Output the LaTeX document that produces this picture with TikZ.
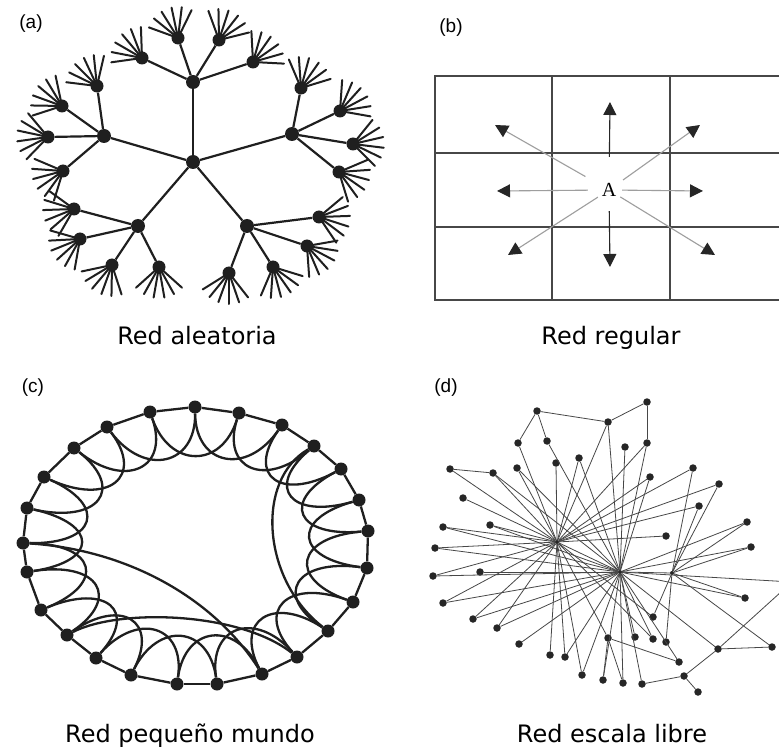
\documentclass[tikz,border=0pt]{standalone}
\usepackage{fontspec}
\setmainfont{DejaVu Sans}
\newfontfamily\labfont{Liberation Sans}
\newfontfamily\serifA{Liberation Serif}
\usetikzlibrary{arrows.meta,calc}
\begin{document}
\begin{tikzpicture}[x=1pt,y=-1pt,
  treeline/.style={line width=2.2pt, draw=black!88},
  fanline/.style={line width=2pt, draw=black!88, line cap=round},
  bigdot/.style={circle, fill=black!88, inner sep=0pt, minimum size=14pt},
  leafdot/.style={circle, fill=black!88, inner sep=0pt, minimum size=13pt},
  ringline/.style={line width=2.3pt, draw=black!88},
  ringdot/.style={circle, fill=black!88, inner sep=0pt, minimum size=13pt},
  sfline/.style={line width=0.8pt, draw=black!72},
  sfdot/.style={circle, fill=black!85, inner sep=0pt, minimum size=7.5pt},
  hubdot/.style={circle, fill=black!85, inner sep=0pt, minimum size=4pt},
  gridline/.style={line width=1.8pt, draw=black!72},
  darrow/.style={line width=1.1pt, draw=black!85, -{Triangle[length=13pt,width=13pt]}},
  garrow/.style={line width=1.1pt, draw=black!38, -{Triangle[length=13pt,width=13pt,color=black!85]}},
  caption/.style={font=\fontsize{24}{28}\selectfont, anchor=base, inner sep=0pt},
  plabel/.style={font=\labfont\fontsize{19}{21}\selectfont, inner sep=0pt}
]
\useasboundingbox (0,0) rectangle (779,751);
\clip (0,0) rectangle (779,751);
\fill[white] (0,0) rectangle (779,751);

% ---------------- (a) random tree ----------------
\foreach \n/\x/\y in {a0/193/162, at/193/82, al/104/136, ar/292/134, abl/138/226, abr/247/226}
  \node[bigdot] (\n) at (\x,\y) {};
\foreach \n in {at,al,ar,abl,abr} \draw[treeline] (a0) -- (\n);
\foreach \p/\n/\x/\y/\ang in {
 at/a1/142/58/140, at/a2/178/38/112, at/a3/219/40/62, at/a4/253/62/45,
 al/a5/97/86/125, al/a6/62/106/150, al/a7/48/137/178, al/a8/63/171/205,
 ar/a9/301/88/65, ar/a10/340/111/38, ar/a11/353/144/3, ar/a12/339/172/-25,
 abl/a13/74/209/192, abl/a14/80/239/212, abl/a15/112/265/240, abl/a16/159/267/270,
 abr/a17/229/273/260, abr/a18/273/267/295, abr/a19/307/246/322, abr/a20/319/217/-8}{
  \node[leafdot] (\n) at (\x,\y) {};
  \draw[treeline] (\p) -- (\n);
  \foreach \o in {-48,-29,-10,10,29,48}
    \draw[fanline] (\n.center) -- ++(\ang+\o:31pt);
}
\node[plabel] (la) at (31,24) {(a)};
\node[caption] (capa) at (197,344) {Red aleatoria};

% ---------------- (b) regular lattice ----------------
\draw[gridline] (779,76) -- (435,76) -- (435,300) -- (779,300);
\draw[gridline] (435,153) -- (779,153);
\draw[gridline] (435,227) -- (779,227);
\draw[gridline] (552,76) -- (552,300);
\draw[gridline] (670,76) -- (670,300);
\node[circle, fill=white, inner sep=0pt, minimum size=26pt, font=\serifA\fontsize{20}{22}\selectfont] (A) at (609,190) {A};
\foreach \n/\x/\y in {bu/610/102, bd/610/267, bl/497/191, br/703/191, bul/495/125, bur/700/125, bdl/508/255, bdr/715/255}
  \coordinate (\n) at (\x,\y);
\draw[darrow, shorten <=20pt] (A) -- (bu);
\draw[darrow, shorten <=8pt] (A) -- (bd);
\draw[garrow, shorten <=8pt] (A) -- (bl);
\draw[garrow] (A) -- (br);
\draw[garrow, shorten <=14pt] (A) -- (bul);
\draw[garrow, shorten <=4pt] (A) -- (bur);
\draw[garrow] (A) -- (bdl);
\draw[garrow] (A) -- (bdr);
\node[plabel] (lb) at (451,28) {(b)};
\node[caption] (capb) at (611,344) {Red regular};

% ---------------- (c) small world ----------------
\coordinate (C) at (197,546);
\foreach \i/\x/\y in {1/195/407, 2/239/413, 3/282/425, 4/314/446, 5/341/469, 6/359/500,
  7/368/531, 8/367/568, 9/353/602, 10/328/631, 11/297/657, 12/262/674, 13/217/684,
  14/177/684, 15/131/675, 16/96/658, 17/67/635, 18/41/610, 19/27/572, 20/23/543,
  21/27/508, 22/44/477, 23/74/448, 24/107/427, 25/150/412}
  \node[ringdot] (r\i) at (\x,\y) {};
\foreach \i in {1,...,25} {
  \pgfmathtruncatemacro\j{mod(\i,25)+1}
  \pgfmathtruncatemacro\k{mod(\i+1,25)+1}
  \draw[ringline] (r\i) -- (r\j);
  \draw[ringline] (r\i) .. controls ($(r\i)!0.42!(C)$) and ($(r\k)!0.42!(C)$) .. (r\k);
}
\draw[ringline] (r20) .. controls (130,550) and (215,600) .. (r12);
\draw[ringline] (r17) .. controls (120,608) and (240,612) .. (r11);
\draw[ringline] (r4) .. controls (255,480) and (262,580) .. (r10);
\node[plabel] (lc) at (33,388) {(c)};
\node[caption] (capc) at (190,742) {Red pequeño mundo};

% ---------------- (d) scale free ----------------
\foreach \n/\x/\y in {h1/557/542, h2/620/572, h3/672/573}
  \node[hubdot] (\n) at (\x,\y) {};
\foreach \n/\x/\y in {d1/537/411, d2/608/422, d3/647/402, d4/518/443, d5/547/441,
  d6/556/463, d7/579/458, d8/625/447, d9/647/443, d10/450/469, d11/493/473,
  d12/517/468, d13/650/477, d14/693/468, d15/719/484, d16/699/506, d17/463/498,
  d18/443/527, d19/490/525, d20/666/536, d21/747/522, d22/435/548, d23/751/547,
  d24/433/576, d25/480/572, d26/443/603, d27/745/598, d28/473/619, d29/497/628,
  d30/653/617, d31/519/644, d32/608/638, d33/635/637, d34/653/639, d35/666/642,
  d36/718/649, d37/772/647, d38/550/655, d39/565/657, d40/679/662, d41/582/675,
  d42/603/680, d43/623/683, d44/642/684, d45/684/676, d46/698/692}
  \node[sfdot] (\n) at (\x,\y) {};
\coordinate (off) at (792,582);
\foreach \a/\b in {d1/d4, d1/d5, d1/d2, d2/d3, d3/d9, d10/d11, d44/d45, d45/d46,
  d45/d36, d36/d37, d32/d40, d32/d42, d32/d43, d36/off, h2/off,
  h1/d4, h1/d6, h1/d10, h1/d11, h1/d12, h1/d17, h1/d18, h1/d19, h1/d20, h1/d22,
  h1/d24, h1/d38, h1/d39, h1/d9, h1/d13, h1/d14, h1/d15, h1/d16, h1/d30, h1/d34,
  h1/d32, h1/d41, h1/d2, h1/d26, h1/d28, h1/d29, h1/d7,
  h2/d2, h2/d5, h2/d7, h2/d8, h2/d9, h2/d12, h2/d18, h2/d22, h2/d24, h2/d25,
  h2/d26, h2/d28, h2/d29, h2/d11, h2/d13, h2/d21, h2/d23, h2/d27, h2/d33, h2/d36,
  h2/d40, h2/d41, h2/d42, h2/d43, h2/d44, h2/d31, h2/d19, h2/d39, h2/d34, h1/h2, h2/h3,
  h3/d14, h3/d15, h3/d16, h3/d21, h3/d23, h3/d27, h3/d35, h3/d37, h3/d30}
  \draw[sfline] (\a) -- (\b);
\node[plabel] (ld) at (446,388) {(d)};
\node[caption] (capd) at (612,742) {Red escala libre};
\end{tikzpicture}
\end{document}
